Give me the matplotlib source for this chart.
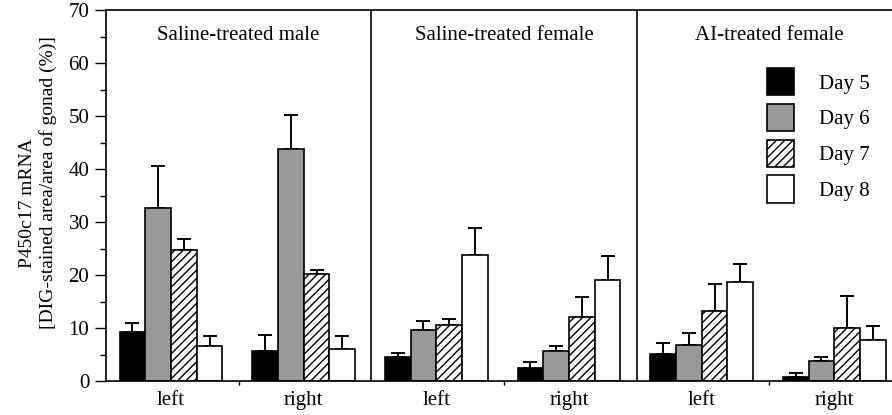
import numpy as np
import matplotlib
matplotlib.use("Agg")
import matplotlib.pyplot as plt
from matplotlib.patches import Patch

plt.rcParams['font.family'] = ['Liberation Serif', 'DejaVu Serif']

# data
panels = ['Saline-treated male', 'Saline-treated female', 'AI-treated female']
sides = ['left', 'right', 'left', 'right', 'left', 'right']
days = ['Day 5', 'Day 6', 'Day 7', 'Day 8']
day5 = [9.3, 5.7, 4.5, 2.5, 5.1, 0.8]
day6 = [32.7, 43.8, 9.6, 5.7, 6.8, 3.8]
day7 = [24.7, 20.2, 10.5, 12.0, 13.2, 10.0]
day8 = [6.6, 6.0, 23.8, 19.0, 18.7, 7.75]
sem5 = [1.6, 3.0, 0.7, 1.0, 2.1, 0.65]
sem6 = [7.8, 6.4, 1.8, 0.9, 2.2, 0.7]
sem7 = [2.0, 0.7, 1.2, 3.8, 5.1, 6.1]
sem8 = [1.8, 2.5, 5.0, 4.6, 3.4, 2.65]

means = [day5, day6, day7, day8]
sems = [sem5, sem6, sem7, sem8]
colors = ['black', '#999999', 'white', 'white']
hatches = [None, None, '////', None]

fig = plt.figure(figsize=(8.92, 4.15), dpi=100)
ax = fig.add_axes([106 / 892, 34 / 415, 796 / 892, 371 / 415])

x = np.arange(len(sides)) + 0.49
w = 0.194
plt.rcParams['hatch.linewidth'] = 1.0
for i in range(4):
    pos = x + (i - 1.5) * w
    ax.bar(pos, means[i], w, color=colors[i], edgecolor='black', linewidth=1.2,
           hatch=hatches[i], label=days[i], zorder=2)
    ax.errorbar(pos, means[i], yerr=[np.zeros(6), sems[i]], fmt='none',
                ecolor='black', elinewidth=1.4, capsize=5, capthick=1.4, zorder=1)

# panel dividers
for d in [2, 4]:
    ax.axvline(d, color='black', linewidth=1.2)

for k, name in enumerate(panels):
    ax.text(2 * k + 1, 65.2, name, ha='center', va='center', fontsize=15)

ax.set_xlim(0, 6)
ax.set_ylim(0, 70)
ax.set_yticks(range(0, 71, 10))
ax.set_yticks(range(5, 70, 10), minor=True)
ax.tick_params(axis='y', which='major', direction='out', length=8, width=1, labelsize=15, pad=4)
ax.tick_params(axis='y', which='minor', direction='out', length=4.5, width=1)
ax.set_xticks(x)
ax.set_xticklabels(sides, fontsize=15)
ax.set_xticks([1, 3, 5], minor=True)
ax.tick_params(axis='x', which='major', length=0, pad=7)
ax.tick_params(axis='x', which='minor', direction='out', length=3, width=1)
for s in ax.spines.values():
    s.set_linewidth(1.2)

fig.text(28 / 892, 1 - 203 / 415, 'P450c17 mRNA', rotation=90, ha='center', va='center', fontsize=14)
fig.text(48 / 892, 1 - 183 / 415, '[DIG-stained area/area of gonad (%)]', rotation=90,
         ha='center', va='center', fontsize=14)

handles = [Patch(facecolor=colors[i], edgecolor='black', hatch=hatches[i], linewidth=1.2) for i in range(4)]
fig.legend(handles, days, loc='upper left', bbox_to_anchor=(767 / 892, 1 - 68 / 415),
           frameon=False, fontsize=15, handlelength=1.3, handleheight=1.65,
           labelspacing=0.4, handletextpad=1.2, borderpad=0, borderaxespad=0)

fig.savefig('out.png', dpi=100)
